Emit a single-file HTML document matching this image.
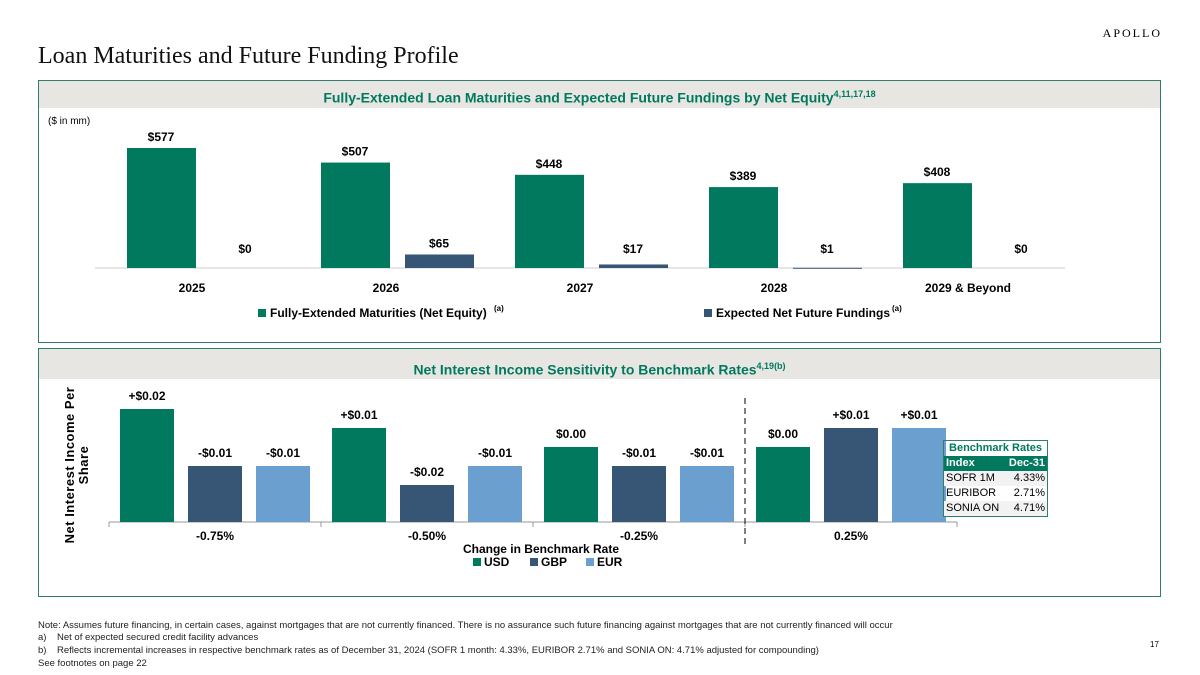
<!DOCTYPE html>
<html><head><meta charset="utf-8"><style>
body{margin:0;width:1200px;height:675px;background:#fff;font-family:"Liberation Sans",sans-serif;position:relative;overflow:hidden}
.abs{position:absolute}
.panel{position:absolute;left:38px;width:1123px;border:1px solid #2e7d6e;box-sizing:border-box}
.hdr{position:absolute;left:0;right:0;top:0;background:#e8e6e3;color:#00795f;font-weight:bold;font-size:14px;text-align:center}
.note{font-size:9.5px;color:#222;position:absolute;left:38px}
</style></head><body>
<div class="abs" style="right:38px;top:26px;font-family:'Liberation Serif',serif;font-size:12px;letter-spacing:2px">APOLLO</div>
<div class="abs" style="left:38px;top:43px;font-family:'Liberation Serif',serif;font-size:24px;color:#111">Loan Maturities and Future Funding Profile</div>

<div class="panel" style="top:80px;height:263px">
 <div class="hdr" style="height:27px;line-height:27px">Fully-Extended Loan Maturities and Expected Future Fundings by Net Equity<sup style="font-size:9px">4,11,17,18</sup></div>
 <div class="abs" style="left:9px;top:35px;font-size:10px">($ in mm)</div>
</div>
<div class="panel" style="top:348px;height:249px">
 <div class="hdr" style="height:30px;line-height:34px">Net Interest Income Sensitivity to Benchmark Rates<sup style="font-size:9px">4,19(b)</sup></div>
</div>

<svg class="abs" style="left:0;top:0" width="1200" height="675" id="svg"></svg>

<div class="abs" style="left:943px;top:440px;width:103px;border:1px solid #2e7d6e;font-size:11px">
 <div style="text-align:center;color:#00795f;font-weight:bold;height:15px;line-height:15px">Benchmark Rates</div>
 <div style="background:#00795f;color:#fff;font-weight:bold;display:flex;justify-content:space-between;padding:0 2px;height:15px;line-height:15px"><span>Index</span><span>Dec-31</span></div>
 <div style="display:flex;justify-content:space-between;padding:0 2px;height:15px;line-height:15px;background:#f2f2f2"><span>SOFR 1M</span><span>4.33%</span></div>
 <div style="display:flex;justify-content:space-between;padding:0 2px;height:15px;line-height:15px"><span>EURIBOR</span><span>2.71%</span></div>
 <div style="display:flex;justify-content:space-between;padding:0 2px;height:15px;line-height:15px;background:#f2f2f2"><span>SONIA ON</span><span>4.71%</span></div>
</div>

<div class="note" style="top:620px">Note: Assumes future financing, in certain cases, against mortgages that are not currently financed. There is no assurance such future financing against mortgages that are not currently financed will occur</div>
<div class="note" style="top:632px">a)&nbsp;&nbsp;&nbsp;&nbsp;Net of expected secured credit facility advances</div>
<div class="note" style="top:645px">b)&nbsp;&nbsp;&nbsp;&nbsp;Reflects incremental increases in respective benchmark rates as of December 31, 2024 (SOFR 1 month: 4.33%, EURIBOR 2.71% and SONIA ON: 4.71% adjusted for compounding)</div>
<div class="note" style="top:658px">See footnotes on page 22</div>
<div class="abs" style="left:1150px;top:640px;font-size:8px">17</div>

<script>
const years=["2025","2026","2027","2028","2029 & Beyond"];
const maturities=[577,507,448,389,408];
const fundings=[0,65,17,1,0];
const rateCats=["-0.75%","-0.50%","-0.25%","0.25%"];
const usd=[0.02,0.01,0.00,0.00];
const gbp=[-0.01,-0.02,-0.01,0.01];
const eur=[-0.01,-0.01,-0.01,0.01];
const usdLbl=["+$0.02","+$0.01","$0.00","$0.00"];
const gbpLbl=["-$0.01","-$0.02","-$0.01","+$0.01"];
const eurLbl=["-$0.01","-$0.01","-$0.01","+$0.01"];

const svg=document.getElementById('svg');const NS='http://www.w3.org/2000/svg';
function mk(t,a,txt){const e=document.createElementNS(NS,t);for(const k in a)e.setAttribute(k,a[k]);if(txt!==undefined)e.textContent=txt;svg.appendChild(e);return e;}
const G='#00795f',B='#375675',L='#6a9fd0';
// top chart
const base1=268,k1=120/577;
const y1=v=>base1-v*k1;
mk('line',{x1:95,x2:1065,y1:base1,y2:base1,stroke:'#ccc'});
years.forEach((yr,i)=>{
 const gx=95+i*194;
 let e=mk('rect',{x:gx+32,y:y1(maturities[i]),width:69,height:base1-y1(maturities[i]),fill:G});
 
 e=mk('rect',{x:gx+116,y:y1(fundings[i]),width:69,height:Math.max(base1-y1(fundings[i]),fundings[i]>0?1:0),fill:B});
 
 mk('text',{x:gx+66,y:y1(maturities[i])-7,'text-anchor':'middle','font-size':12,'font-weight':'bold'},'$'+maturities[i]);
 mk('text',{x:gx+150,y:Math.min(y1(fundings[i]),base1-8)-7,'text-anchor':'middle','font-size':12,'font-weight':'bold'},'$'+fundings[i]);
 mk('text',{x:gx+97,y:292,'text-anchor':'middle','font-size':12,'font-weight':'bold'},yr);
});
mk('rect',{x:258,y:309,width:8,height:8,fill:G});
mk('text',{x:270,y:317,'font-size':12,'font-weight':'bold'},'Fully-Extended Maturities (Net Equity)');
mk('text',{x:494,y:311,'font-size':8,'font-weight':'bold'},'(a)');
mk('rect',{x:704,y:309,width:8,height:8,fill:B});
mk('text',{x:716,y:317,'font-size':12,'font-weight':'bold'},'Expected Net Future Fundings');
mk('text',{x:892,y:311,'font-size':8,'font-weight':'bold'},'(a)');
// bottom chart
const base2=522;const y2=v=>447-v*1900;
mk('line',{x1:109,x2:957,y1:base2,y2:base2,stroke:'#999'});
for(let i=0;i<=4;i++)mk('line',{x1:109+i*212,x2:109+i*212,y1:base2,y2:base2+5,stroke:'#999'});
mk('line',{x1:745,x2:745,y1:398,y2:548,stroke:'#000','stroke-dasharray':'6,4'});
const series=[[usd,usdLbl,G,'usd'],[gbp,gbpLbl,B,'gbp'],[eur,eurLbl,L,'eur']];
rateCats.forEach((c,i)=>{
 const gx=109+i*212;
 series.forEach((s,j)=>{
  const x=gx+11+j*68,top=y2(s[0][i]);
  const r=mk('rect',{x:x,y:top,width:54,height:base2-top,fill:s[2]});
  
  mk('text',{x:x+27,y:top-9,'text-anchor':'middle','font-size':12,'font-weight':'bold'},s[1][i]);
 });
 mk('text',{x:gx+106,y:540,'text-anchor':'middle','font-size':12,'font-weight':'bold'},c);
});
mk('text',{x:541,y:553,'text-anchor':'middle','font-size':12,'font-weight':'bold'},'Change in Benchmark Rate');
[['USD',G,473],['GBP',B,530],['EUR',L,586]].forEach(l=>{mk('rect',{x:l[2],y:558,width:8,height:8,fill:l[1]});mk('text',{x:l[2]+11,y:566,'font-size':12,'font-weight':'bold'},l[0]);});
const t=mk('text',{transform:'translate(74,465) rotate(-90)','text-anchor':'middle','font-size':13,'font-weight':'bold','letter-spacing':'0.5'});

const a=document.createElementNS(NS,'tspan');a.setAttribute('x',0);a.setAttribute('dy',0);a.textContent='Net Interest Income Per';t.appendChild(a);
const b=document.createElementNS(NS,'tspan');b.setAttribute('x',0);b.setAttribute('dy',14);b.textContent='Share';t.appendChild(b);
</script>
</body></html>
